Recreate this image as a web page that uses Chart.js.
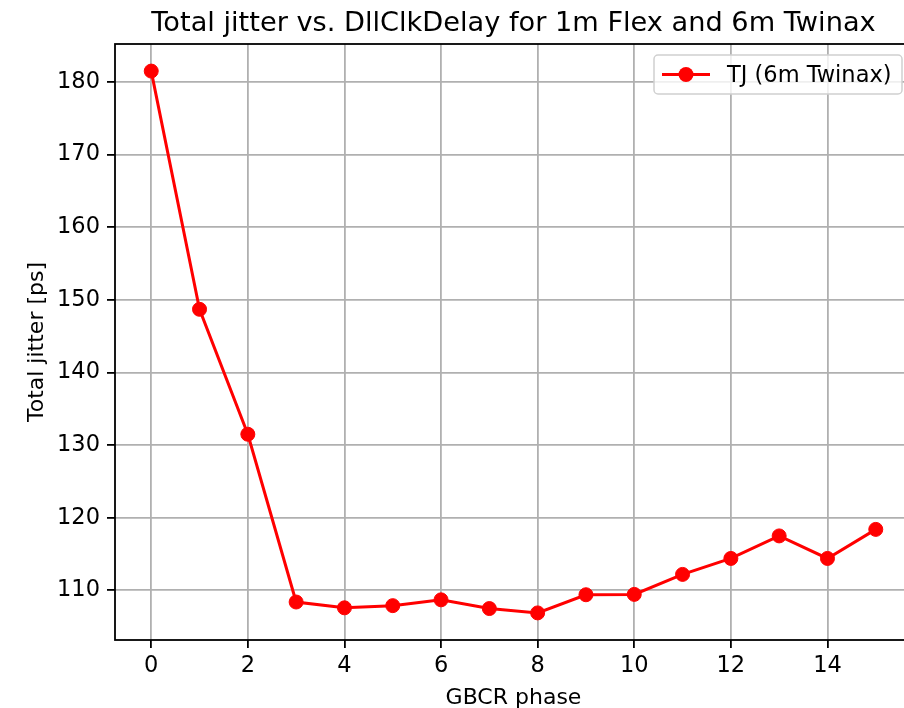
<!DOCTYPE html>
<html>
<head>
<meta charset="utf-8">
<script src="https://cdn.jsdelivr.net/npm/chart.js@4"></script>
<style>
  html, body { margin: 0; padding: 0; background: #fff; overflow: hidden; }
  #chart_data { width: 904px; height: 708px; overflow: hidden; position: relative; }
  #chart-line { display: block; }
</style>
</head>
<body>
<div id="chart_data"><canvas id="chart-line" width="920" height="708"></canvas></div>
<script>
// GBCR phase values on the x axis
var phase = [0, 1, 2, 3, 4, 5, 6, 7, 8, 9, 10, 11, 12, 13, 14, 15];
// total jitter in ps, 6m twinax
var tj_twinax = [181.5, 148.7, 131.5, 108.4, 107.6, 107.9, 108.7, 107.5, 106.9, 109.4, 109.45, 112.2, 114.4, 117.5, 114.4, 118.4];
var x_ticks = [0, 2, 4, 6, 8, 10, 12, 14];
var y_ticks = [110, 120, 130, 140, 150, 160, 170, 180];

var chart_title = 'Total jitter vs. DllClkDelay for 1m Flex and 6m Twinax';
var series_label = 'TJ (6m Twinax)';
var font_family = '"DejaVu Sans", sans-serif';

// matplotlib style 5% margins
function margins(arr) {
  var lo = Math.min.apply(null, arr), hi = Math.max.apply(null, arr);
  var pad = (hi - lo) * 0.05;
  return [lo - pad, hi + pad];
}
var xr = margins(phase);
var yr = margins(tj_twinax);

var points = phase.map(function (p, i) { return { x: p, y: tj_twinax[i] }; });

// spines + boxed legend drawn like matplotlib
var frame_plugin = {
  id: 'frame',
  afterDatasetsDraw: function (chart) {
    var ctx = chart.ctx, a = chart.chartArea;
    ctx.save();
    ctx.strokeStyle = '#000';
    ctx.lineWidth = 1.8;
    ctx.strokeRect(a.left, a.top, a.right - a.left, a.bottom - a.top);

    // legend, anchored to the visible right edge
    var ds = chart.data.datasets[0];
    var bw = 248, bh = 39;
    var bx = 902 - bw, by = a.top + 11;
    ctx.beginPath();
    ctx.roundRect(bx, by, bw, bh, 4);
    ctx.fillStyle = 'rgba(255,255,255,0.8)';
    ctx.fill();
    ctx.strokeStyle = '#d0d0d0';
    ctx.lineWidth = 1.5;
    ctx.stroke();
    var cy = by + bh / 2;
    ctx.beginPath();
    ctx.moveTo(bx + 8, cy);
    ctx.lineTo(bx + 56, cy);
    ctx.strokeStyle = ds.borderColor;
    ctx.lineWidth = 3;
    ctx.stroke();
    ctx.beginPath();
    ctx.arc(bx + 32, cy, 7.5, 0, Math.PI * 2);
    ctx.fillStyle = ds.pointBackgroundColor;
    ctx.fill();
    ctx.fillStyle = '#000';
    ctx.font = '22.5px ' + font_family;
    ctx.textBaseline = 'middle';
    ctx.textAlign = 'left';
    ctx.fillText(ds.label, bx + 73, cy + 2);
    ctx.restore();
  }
};

var ctx2 = document.getElementById('chart-line').getContext('2d');
new Chart(ctx2, {
  type: 'line',
  data: {
    datasets: [{
      label: series_label,
      data: points,
      borderColor: '#ff0000',
      backgroundColor: '#ff0000',
      pointBackgroundColor: '#ff0000',
      pointBorderColor: '#ff0000',
      borderWidth: 3,
      pointRadius: 7,
      pointBorderWidth: 1,
      tension: 0,
      fill: false
    }]
  },
  options: {
    responsive: false,
    animation: false,
    // plot area runs past the visible right edge, as in the cropped original
    layout: { padding: { left: 0, right: 8, top: 0, bottom: 0 } },
    plugins: {
      legend: { display: false },
      tooltip: { enabled: false },
      title: {
        display: true,
        fullSize: false,
        text: chart_title,
        color: '#000',
        font: { family: font_family, size: 27.2, weight: 'normal', lineHeight: 1.0 },
        padding: { top: 10, bottom: 6.8 }
      }
    },
    scales: {
      x: {
        type: 'linear',
        min: xr[0],
        max: xr[1],
        afterFit: function (s) { s.height = 68; },
        afterBuildTicks: function (s) { s.ticks = x_ticks.map(function (v) { return { value: v }; }); },
        border: { display: false },
        grid: {
          display: true,
          color: '#b0b0b0',
          lineWidth: 1.8,
          drawTicks: true,
          tickLength: 8,
          tickColor: '#000',
          tickWidth: 1.8
        },
        ticks: {
          color: '#000',
          padding: 5,
          maxRotation: 0,
          font: { family: font_family, size: 22.5 },
          callback: function (v) { return String(v); }
        },
        title: {
          display: true,
          text: 'GBCR phase',
          color: '#000',
          font: { family: font_family, size: 22, lineHeight: 0.9 },
          padding: { top: 0, bottom: 0 }
        }
      },
      y: {
        min: yr[0],
        max: yr[1],
        afterFit: function (s) { s.width = 115; },
        afterBuildTicks: function (s) { s.ticks = y_ticks.map(function (v) { return { value: v }; }); },
        border: { display: false },
        grid: {
          display: true,
          color: '#b0b0b0',
          lineWidth: 1.8,
          drawTicks: true,
          tickLength: 8,
          tickColor: '#000',
          tickWidth: 1.8
        },
        ticks: {
          color: '#000',
          padding: 7,
          font: { family: font_family, size: 22.5 },
          callback: function (v) { return String(v); }
        },
        title: {
          display: true,
          text: 'Total jitter [ps]',
          color: '#000',
          font: { family: font_family, size: 22, lineHeight: 0.9 },
          padding: { top: 27, bottom: 0 }
        }
      }
    }
  },
  plugins: [frame_plugin]
});
</script>
</body>
</html>
